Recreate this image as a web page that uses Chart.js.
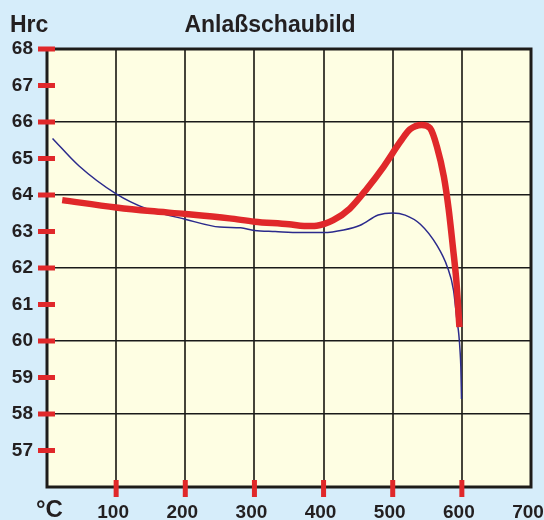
<!DOCTYPE html>
<html>
<head>
<meta charset="utf-8">
<script src="https://cdn.jsdelivr.net/npm/chart.js@4"></script>
<style>
  html, body { margin: 0; padding: 0; background: #d6edfa; }
  canvas { display: block; }
</style>
</head>
<body>
<canvas id="chart" width="544" height="520"></canvas>
<script>
// Anlaßschaubild - Härte über Anlasstemperatur

// --- data ---
const redTemp = [22, 100, 150, 200, 264, 300, 350, 372, 390, 414, 438, 463, 487, 511, 525, 542, 554, 564, 574, 581, 587, 592, 596.5];
const redHrc  = [63.86, 63.66, 63.56, 63.48, 63.36, 63.27, 63.2, 63.15, 63.16, 63.31, 63.63, 64.18, 64.78, 65.46, 65.8, 65.92, 65.83, 65.32, 64.5, 63.6, 62.58, 61.66, 60.38];

const blueTemp = [8, 46, 100, 143, 201, 250, 280, 300, 330, 366, 400, 429, 453, 479, 500, 518, 540, 564, 579, 588, 593, 595.5, 597.5, 598.5, 599.5];
const blueHrc  = [65.55, 64.8, 64.03, 63.63, 63.33, 63.12, 63.1, 63.03, 63.0, 62.97, 62.97, 63.04, 63.17, 63.45, 63.51, 63.45, 63.2, 62.62, 62.03, 61.39, 60.56, 60.2, 59.7, 59.3, 58.41];

const xTicks = [100, 200, 300, 400, 500, 600, 700];
const yTicks = [57, 58, 59, 60, 61, 62, 63, 64, 65, 66, 67, 68];
const yGridLines = [58, 60, 62, 64, 66];
const xRedMarks = [100, 200, 300, 400, 500, 600];

const FONT = '"Liberation Sans", Arial, sans-serif';
const INK = '#231f20';
const RED = '#e0282a';

function pts(xs, ys) {
  return xs.map((x, i) => ({ x: x, y: ys[i] }));
}

// no extra room for the edge labels, the frame is fixed
function noEdgePadding(s) {
  s.paddingLeft = 0;
  s.paddingRight = 0;
  s.paddingTop = 0;
  s.paddingBottom = 0;
}

// --- background, frame, red tick marks, texts ---
const decor = {
  id: 'decor',
  beforeDraw(chart) {
    const { ctx, chartArea: a } = chart;
    ctx.save();
    ctx.fillStyle = '#d6edfa';
    ctx.fillRect(0, 0, chart.width, chart.height);
    ctx.fillStyle = '#fefee3';
    ctx.fillRect(a.left, a.top, a.right - a.left, a.bottom - a.top);
    ctx.restore();
  },
  beforeDatasetsDraw(chart) {
    const { ctx, chartArea: a, scales } = chart;
    ctx.save();
    ctx.strokeStyle = '#1e1c1a';
    ctx.lineWidth = 3;
    ctx.strokeRect(a.left, a.top, a.right - a.left, a.bottom - a.top);

    ctx.fillStyle = RED;
    yTicks.forEach(v => {
      const y = scales.y.getPixelForValue(v);
      ctx.fillRect(a.left - 9, y - 2.5, 17, 5);
    });
    xRedMarks.forEach(v => {
      const x = scales.x.getPixelForValue(v);
      ctx.fillRect(x - 2.5, a.bottom - 7, 5, 17);
    });
    ctx.restore();
  },
  afterDraw(chart) {
    const { ctx } = chart;
    ctx.save();
    ctx.fillStyle = INK;
    ctx.textBaseline = 'alphabetic';
    ctx.font = 'bold 23px ' + FONT;
    ctx.textAlign = 'left';
    ctx.fillText('Hrc', 10, 32);
    ctx.textAlign = 'center';
    ctx.fillText('Anlaßschaubild', 270, 32);
    ctx.font = 'bold 24px ' + FONT;
    ctx.textAlign = 'left';
    ctx.fillText('°C', 36, 517);
    ctx.restore();
  }
};

new Chart(document.getElementById('chart'), {
  type: 'line',
  data: {
    datasets: [
      {
        label: 'Hrc 1',
        data: pts(redTemp, redHrc),
        borderColor: RED,
        borderWidth: 6.5,
        borderCapStyle: 'butt',
        borderJoinStyle: 'round',
        pointRadius: 0,
        cubicInterpolationMode: 'monotone',
        fill: false
      },
      {
        label: 'Hrc 2',
        data: pts(blueTemp, blueHrc),
        borderColor: '#2b2a8c',
        borderWidth: 1.5,
        pointRadius: 0,
        cubicInterpolationMode: 'monotone',
        fill: false
      }
    ]
  },
  options: {
    responsive: false,
    animation: false,
    layout: { padding: { top: 49, right: 13, left: 0, bottom: 0 } },
    plugins: {
      legend: { display: false },
      tooltip: { enabled: false }
    },
    scales: {
      x: {
        type: 'linear',
        min: 0,
        max: 700,
        afterFit: s => { s.height = 33; noEdgePadding(s); },
        afterBuildTicks: s => { s.ticks = [0].concat(xTicks).map(v => ({ value: v })); },
        border: { display: false },
        grid: {
          drawTicks: false,
          lineWidth: 2,
          color: c => (c.tick && c.tick.value > 0 && c.tick.value < 700) ? '#45443a' : 'rgba(0,0,0,0)'
        },
        ticks: {
          padding: 14,
          labelOffset: -3,
          color: INK,
          font: { family: FONT, size: 19, weight: 'bold' },
          callback: v => xTicks.includes(v) ? String(v) : ''
        }
      },
      y: {
        min: 56,
        max: 68,
        afterFit: s => { s.width = 47; noEdgePadding(s); },
        afterBuildTicks: s => { s.ticks = [56].concat(yTicks).map(v => ({ value: v })); },
        border: { display: false },
        grid: {
          drawTicks: false,
          lineWidth: 1.5,
          color: c => (c.tick && yGridLines.includes(c.tick.value)) ? '#1a1a1a' : 'rgba(0,0,0,0)'
        },
        ticks: {
          padding: 14,
          color: INK,
          font: { family: FONT, size: 19, weight: 'bold' },
          callback: v => yTicks.includes(v) ? String(v) : ''
        }
      }
    }
  },
  plugins: [decor]
});
</script>
</body>
</html>
